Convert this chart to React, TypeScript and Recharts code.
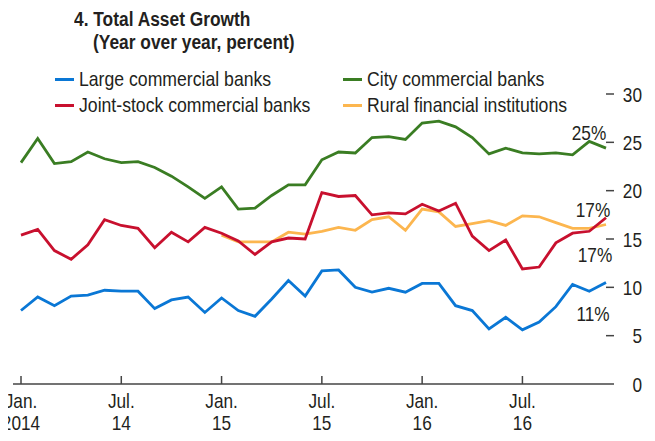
import { LineChart, Line, XAxis, YAxis } from 'recharts'

const months = [
    'Jan-14', 'Feb-14', 'Mar-14', 'Apr-14', 'May-14', 'Jun-14', 'Jul-14', 'Aug-14', 'Sep-14', 'Oct-14', 'Nov-14', 'Dec-14',
    'Jan-15', 'Feb-15', 'Mar-15', 'Apr-15', 'May-15', 'Jun-15', 'Jul-15', 'Aug-15', 'Sep-15', 'Oct-15', 'Nov-15', 'Dec-15',
    'Jan-16', 'Feb-16', 'Mar-16', 'Apr-16', 'May-16', 'Jun-16', 'Jul-16', 'Aug-16', 'Sep-16', 'Oct-16', 'Nov-16', 'Dec-16',
]

const large = [
    7.6, 9.0, 8.1, 9.1, 9.2, 9.7, 9.6, 9.6, 7.8, 8.7, 9.0, 7.4,
    8.9, 7.6, 7.0, 8.8, 10.7, 9.1, 11.7, 11.8, 10.0, 9.5, 9.9, 9.5,
    10.4, 10.4, 8.1, 7.6, 5.7, 6.9, 5.6, 6.4, 8.0, 10.3, 9.6, 10.5,
]

const jointStock = [
    15.4, 16.0, 13.8, 12.9, 14.4, 17.0, 16.4, 16.1, 14.1, 15.7, 14.7, 16.2,
    15.6, 14.8, 13.4, 14.7, 15.1, 15.0, 19.8, 19.4, 19.5, 17.5, 17.7, 17.6,
    18.6, 17.9, 18.7, 15.3, 13.8, 14.9, 11.9, 12.1, 14.6, 15.6, 15.8, 17.2,
]

const city = [
    22.9, 25.4, 22.8, 23.0, 24.0, 23.3, 22.9, 23.0, 22.4, 21.5, 20.4, 19.2,
    20.4, 18.1, 18.2, 19.5, 20.6, 20.6, 23.2, 24.0, 23.9, 25.5, 25.6, 25.3,
    27.0, 27.2, 26.6, 25.5, 23.8, 24.4, 23.9, 23.8, 23.9, 23.7, 25.1, 24.4,
]

const rural: (number | null)[] = [
    null, null, null, null, null, null, null, null, null, null, null, null,
    15.4, 14.7, 14.7, 14.7, 15.7, 15.5, 15.8, 16.2, 15.9, 17.0, 17.3, 15.9,
    18.1, 17.8, 16.3, 16.6, 16.9, 16.4, 17.4, 17.3, 16.7, 16.1, 16.1, 16.5,
]

const endLabels = ['11%', '17%', '25%', '17%']

const yTicks = [0, 5, 10, 15, 20, 25, 30]
const xTickMonths = ['Jan-14', 'Jul-14', 'Jan-15', 'Jul-15', 'Jan-16', 'Jul-16']
const xTickTop = ['Jan.', 'Jul.', 'Jan.', 'Jul.', 'Jan.', 'Jul.']
const xTickBottom = ['2014', '14', '15', '15', '16', '16']

const data = months.map((m, i) => ({
    month: m,
    large: large[i],
    jointStock: jointStock[i],
    city: city[i],
    rural: rural[i],
}))

// Arial-metric face squeezed horizontally to imitate the condensed original
const FONT = '"Liberation Sans", Arimo, Arial, sans-serif'
const SQUEEZE = 0.82
const INK = '#231f20'
const AXIS = '#444'

// legend slots and end-label offsets (relative to the last point)
const series = [
    { key: 'large', name: 'Large commercial banks', color: '#0a77d5', col: 0, row: 0, label: endLabels[0], dx: -13, dy: 31 },
    { key: 'jointStock', name: 'Joint-stock commercial banks', color: '#c8102e', col: 0, row: 1, label: endLabels[1], dx: -13, dy: -8 },
    { key: 'city', name: 'City commercial banks', color: '#3a7d23', col: 1, row: 0, label: endLabels[2], dx: -17, dy: -16 },
    { key: 'rural', name: 'Rural financial institutions', color: '#fcb64f', col: 1, row: 1, label: endLabels[3], dx: -11, dy: 30 },
]
const drawOrder = ['rural', 'large', 'city', 'jointStock']

const NarrowText = ({ x, y, anchor = 'middle', children }: any) => (
    <text
        transform={`translate(${x},${y}) scale(${SQUEEZE},1)`}
        textAnchor={anchor}
        fontSize={21}
        fill={INK}
        fontFamily={FONT}
    >
        {children}
    </text>
)

const XTick = (props: any) => {
    const { x, y, payload } = props
    const i = xTickMonths.indexOf(payload.value)
    if (i < 0) return <g />
    return (
        <g>
            <line x1={x} x2={x} y1={y - 8} y2={y} stroke={AXIS} strokeWidth={1.5} />
            <NarrowText x={x} y={y + 23.5}>{xTickTop[i]}</NarrowText>
            <NarrowText x={x} y={y + 46}>{xTickBottom[i]}</NarrowText>
        </g>
    )
}

const RightTick = (props: any) => {
    const { x, y, payload } = props
    return (
        <g>
            {payload.value !== 0 && <line x1={x - 8} x2={x} y1={y} y2={y} stroke={AXIS} strokeWidth={1.5} />}
            <NarrowText x={x + 28} y={y + 7.5} anchor="end">{payload.value}</NarrowText>
        </g>
    )
}

const LeftTick = (props: any) => {
    const { x, y, payload } = props
    if (payload.value === 0) return <g />
    return <line x1={x} x2={x + 8} y1={y} y2={y} stroke={AXIS} strokeWidth={1.5} />
}

const endLabel = (s: typeof series[number]) => (p: any) => {
    if (p.index !== months.length - 1) return <g />
    return <NarrowText x={p.x + s.dx} y={p.y + s.dy + 7.5}>{s.label}</NarrowText>
}

const squeezed = (k: number): React.CSSProperties => ({
    display: 'inline-block',
    transform: `scaleX(${k})`,
    transformOrigin: 'left center',
    whiteSpace: 'nowrap',
})

export default function App() {
    return (
        <div style={{ position: 'relative', width: 655, height: 441, margin: -8, fontFamily: FONT, color: INK }}>
            <div style={{ position: 'absolute', left: 74, top: 7, fontSize: 19.5, fontWeight: 'bold', lineHeight: '24px' }}>
                <span style={squeezed(0.89)}>4. Total Asset Growth</span>
            </div>
            <div style={{ position: 'absolute', left: 93, top: 30, fontSize: 19.5, fontWeight: 'bold', lineHeight: '24px' }}>
                <span style={squeezed(0.89)}>(Year over year, percent)</span>
            </div>
            {series.map((s) => (
                <div
                    key={s.key}
                    style={{
                        position: 'absolute',
                        left: s.col === 0 ? 55 : 343,
                        top: s.row === 0 ? 67 : 93,
                        fontSize: 21,
                        lineHeight: '24px',
                        whiteSpace: 'nowrap',
                        display: 'flex',
                        alignItems: 'center',
                    }}
                >
                    <span style={{ display: 'inline-block', width: 19, height: 3, background: s.color, marginRight: 5 }} />
                    <span style={squeezed(0.84)}>{s.name}</span>
                </div>
            ))}
            <LineChart width={655} height={441} data={data} margin={{ top: 94, right: 0, bottom: 0, left: 0 }}>
                <XAxis
                    dataKey="month"
                    interval={0}
                    height={57}
                    padding={{ left: 8, right: 8 }}
                    tickLine={false}
                    tickSize={0}
                    tickMargin={0}
                    axisLine={{ stroke: AXIS, strokeWidth: 1.5 }}
                    tick={<XTick />}
                />
                <YAxis
                    yAxisId="left"
                    orientation="left"
                    width={13}
                    domain={[0, 30]}
                    ticks={yTicks}
                    axisLine={false}
                    tickLine={false}
                    tickSize={0}
                    tickMargin={0}
                    tick={<LeftTick />}
                />
                <YAxis
                    yAxisId="right"
                    orientation="right"
                    width={41}
                    domain={[0, 30]}
                    ticks={yTicks}
                    axisLine={false}
                    tickLine={false}
                    tickSize={0}
                    tickMargin={0}
                    tick={<RightTick />}
                />
                {drawOrder.map((k) => {
                    const s = series.find((d) => d.key === k)!
                    return (
                        <Line
                            key={s.key}
                            yAxisId="right"
                            type="linear"
                            dataKey={s.key}
                            name={s.name}
                            stroke={s.color}
                            strokeWidth={2.8}
                            dot={false}
                            isAnimationActive={false}
                            label={endLabel(s)}
                        />
                    )
                })}
            </LineChart>
        </div>
    )
}
